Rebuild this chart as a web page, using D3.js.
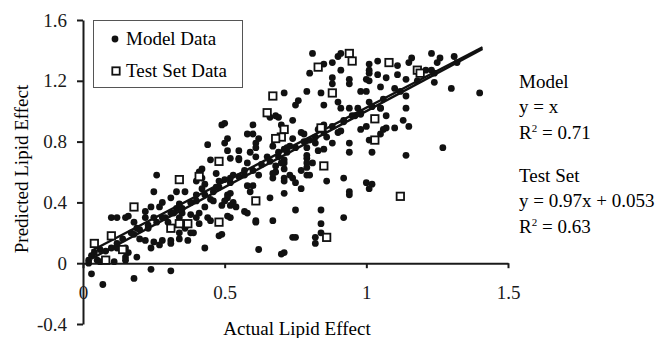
<!DOCTYPE html>
<html>
<head>
<meta charset="utf-8">
<script src="https://cdn.jsdelivr.net/npm/d3@7"></script>
<style>
  body { margin: 0; background: #fff; }
  svg { display: block; font-family: "Liberation Serif", "Times New Roman", serif; }
  .axis path, .axis line { stroke: #1a1a1a; stroke-width: 2; }
  .axis text { font-size: 19px; fill: #1a1a1a; font-family: "Liberation Serif", serif; }
</style>
</head>
<body>
<div id="vis"></div>
<script>
// values: [actual, predicted]
var modelPoints = [
  [0.49,0.91],[0.50,0.92],[0.51,0.82],[0.50,0.79],[0.44,0.78],[0.51,0.74],[0.52,0.69],[0.45,0.68],
  [0.42,0.62],[0.41,0.60],[0.26,0.58],[0.40,0.54],[0.43,0.52],[0.48,0.54],[0.52,0.56],[0.47,0.50],
  [0.25,0.47],[0.28,0.40],[0.27,0.37],[0.24,0.37],[0.22,0.34],[0.16,0.31],[0.15,0.30],[0.10,0.30],
  [0.12,0.30],[0.18,0.27],[0.22,0.30],[0.25,0.30],[0.28,0.30],[0.19,0.23],[0.23,0.23],[0.17,0.20],
  [0.20,0.16],[0.22,0.15],[0.25,0.14],[0.28,0.15],[0.31,0.15],[0.34,0.16],[0.37,0.15],[0.31,0.13],
  [0.27,0.12],[0.24,0.10],[0.15,0.10],[0.16,0.07],[0.12,0.10],[0.10,0.10],[0.06,0.09],[0.04,0.07],
  [0.03,0.05],[0.02,0.02],[0.05,0.02],[0.15,0.04],[0.19,0.04],[0.15,0.02],[0.06,0.01],[0.11,0.01],
  [0.43,0.37],[0.44,0.30],[0.45,0.28],[0.48,0.18],[0.43,0.10],[0.41,0.26],[0.40,0.30],[0.38,0.32],
  [0.41,0.33],[0.35,0.33],[0.33,0.36],[0.31,0.33],[0.34,0.30],[0.36,0.23],[0.38,0.20],[0.39,0.20],
  [0.34,0.20],[0.51,0.45],[0.52,0.30],[0.49,0.38],[0.42,0.49],[0.33,0.47],[0.36,0.47],[0.40,0.45],
  [0.31,0.43],[0.03,-0.07],[0.07,-0.14],[0.18,-0.10],[0.24,-0.04],[0.31,-0.05],[0.02,0.00],
  [0.62,0.09],[0.71,0.07],[0.67,0.28],[0.61,0.28],[0.51,0.31],[0.49,0.19],[0.57,0.34],[0.58,0.51],
  [0.60,0.51],[0.71,0.46],[0.75,0.35],[0.82,0.17],[0.84,0.35],[0.84,0.26],[0.74,0.17],[0.79,0.58],
  [0.77,0.61],[0.74,0.56],[0.71,0.56],[0.68,0.60],[0.67,0.56],[0.57,0.61],[0.53,0.58],[0.52,0.46],
  [0.53,0.40],[0.46,0.41],[0.42,0.56],[0.47,0.59],[0.55,0.74],[0.58,0.85],[0.61,0.79],[0.62,0.82],
  [0.59,0.73],[0.55,0.69],[0.67,0.77],[0.71,0.75],[0.73,0.77],[0.77,0.86],[0.78,0.85],[0.80,0.81],
  [0.79,0.76],[0.82,0.79],[0.85,0.75],[0.86,0.83],[0.88,0.79],[0.91,0.87],[0.94,0.79],[0.94,0.73],
  [0.98,0.88],[1.01,0.81],[1.02,0.73],[0.68,0.64],[0.71,0.66],[0.71,0.62],[0.67,0.59],[0.73,0.58],
  [0.79,0.69],[0.79,0.63],[0.81,0.66],[0.80,0.58],[0.71,0.54],[0.75,0.53],[0.77,0.49],[0.86,0.54],
  [0.92,0.56],[0.94,0.47],[0.94,0.45],[1.00,0.53],[1.02,0.52],[1.01,0.49],[0.59,0.47],[0.66,0.43],
  [0.51,0.43],[0.52,0.38],[0.50,0.41],[0.54,0.37],[0.58,0.33],[0.61,0.27],[0.92,0.30],
  [0.81,1.38],[0.85,1.31],[0.80,1.25],[0.88,1.32],[0.90,1.36],[0.91,1.38],[0.91,1.27],[1.01,1.31],
  [1.01,1.25],[1.00,1.21],[1.01,1.20],[0.94,1.21],[0.94,1.18],[0.88,1.22],[0.88,1.18],[0.84,1.12],
  [0.90,1.06],[0.91,1.02],[0.85,1.04],[0.94,1.02],[0.98,1.13],[1.00,1.13],[0.71,1.12],[0.79,1.13],
  [0.76,1.07],[0.75,1.04],[0.74,0.94],[0.68,0.97],[0.66,0.96],[0.70,0.91],[0.60,0.91],[0.98,0.98],
  [0.96,0.97],[1.01,1.06],[0.92,0.94],[0.85,0.91],[1.00,0.90],
  [1.23,1.38],[1.26,1.35],[1.25,1.32],[1.16,1.35],[1.15,1.32],[1.31,1.36],[1.32,1.32],[1.04,1.33],
  [1.11,1.30],[1.01,1.27],[1.04,1.24],[1.07,1.22],[1.11,1.24],[1.14,1.21],[1.21,1.27],[1.24,1.19],
  [1.23,1.27],[1.30,1.15],[1.40,1.12],[1.05,1.16],[1.10,1.15],[1.14,1.10],[1.14,1.02],[1.05,1.02],
  [1.07,0.97],[1.13,0.94],[1.15,0.90],[1.07,0.89],[1.10,0.89],[1.27,0.76],[1.14,0.71],[1.06,0.88],
  [1.05,0.85],[0.79,0.66],[0.84,0.20],[0.82,0.13],[0.75,0.17],[0.70,0.06],
  [0.60,0.85],[0.61,0.76],[0.69,0.73],[0.72,0.76],[0.74,0.82],[0.71,0.68],[0.79,0.71],[0.83,0.74],
  [0.55,0.68],[0.58,0.66],[0.61,0.70],[0.69,0.96],
  [0.08,0.08],[0.12,0.13],[0.14,0.16],[0.18,0.19],[0.20,0.22],[0.23,0.25],[0.26,0.27],[0.29,0.30],
  [0.32,0.33],[0.35,0.36],[0.38,0.40],[0.40,0.41],[0.43,0.45],[0.46,0.47],[0.48,0.50],[0.52,0.53],
  [0.55,0.57],[0.57,0.58],[0.60,0.61],[0.63,0.65],[0.66,0.67],[0.69,0.70],[0.72,0.73],[0.75,0.76],
  [0.78,0.80],[0.82,0.83],[0.85,0.86],[0.88,0.90],[0.92,0.93],[0.95,0.97],[0.98,0.99],[1.02,1.03],
  [1.06,1.08],[1.12,1.13],[1.18,1.20],[1.24,1.25],[0.30,0.27],[0.45,0.42],[0.62,0.58],[0.70,0.66],
  [0.90,0.86],[1.05,1.02],[0.34,0.39],[0.50,0.55],[0.65,0.70],[0.83,0.88],[0.97,1.02]
];

var testPoints = [
  [0.83,1.29],[0.94,1.38],[0.95,1.33],[1.08,1.32],[1.18,1.27],[1.19,1.25],[0.67,1.10],[0.65,0.99],
  [0.88,1.12],[0.71,0.88],[0.70,0.83],[0.68,0.82],[0.84,0.89],[0.48,0.67],[0.41,0.57],[0.34,0.55],
  [0.85,0.64],[1.03,0.95],[1.03,0.81],[0.61,0.41],[0.18,0.37],[0.31,0.23],[0.34,0.26],[0.37,0.26],
  [0.48,0.27],[0.10,0.18],[0.04,0.13],[0.14,0.09],[0.08,0.02],[0.86,0.17],[1.12,0.44]
];

// fitted lines: [slope, intercept], drawn over this x span
var modelFit = [1, 0];
var testFit = [0.97, 0.053];
var fitSpan = [0.03, 1.41];

var xTicks = [0, 0.5, 1, 1.5];
var yTicks = [-0.4, 0, 0.4, 0.8, 1.2, 1.6];

var width = 658, height = 338;

var svg = d3.select("#vis").append("svg")
  .attr("width", width)
  .attr("height", height);

var x = d3.scaleLinear().domain([0, 1.5]).range([83, 508]);
var y = d3.scaleLinear().domain([-0.4, 1.6]).range([324, 20]);

// axes
svg.append("g")
  .attr("class", "axis")
  .attr("transform", "translate(" + x(0) + ",0)")
  .call(d3.axisLeft(y).tickValues(yTicks).tickSize(6).tickSizeOuter(0).tickPadding(10)
    .tickFormat(function(d) { return String(d); }));

svg.append("g")
  .attr("class", "axis")
  .attr("transform", "translate(0," + y(0) + ")")
  .call(d3.axisBottom(x).tickValues(xTicks).tickSize(5).tickSizeOuter(0).tickPadding(17)
    .tickFormat(function(d) { return String(d); }));

// model data
svg.append("g").selectAll("circle")
  .data(modelPoints)
  .enter().append("circle")
  .attr("cx", function(d) { return x(d[0]); })
  .attr("cy", function(d) { return y(d[1]); })
  .attr("r", 3.4)
  .attr("fill", "#111");

// regression lines
[testFit, modelFit].forEach(function(f) {
  svg.append("line")
    .attr("x1", x(fitSpan[0]))
    .attr("y1", y(f[0] * fitSpan[0] + f[1]))
    .attr("x2", x(fitSpan[1]))
    .attr("y2", y(f[0] * fitSpan[1] + f[1]))
    .attr("stroke", "#111")
    .attr("stroke-width", 2.4);
});

// test set data
svg.append("g").selectAll("rect")
  .data(testPoints)
  .enter().append("rect")
  .attr("x", function(d) { return x(d[0]) - 3.7; })
  .attr("y", function(d) { return y(d[1]) - 3.7; })
  .attr("width", 7.4)
  .attr("height", 7.4)
  .attr("fill", "#fff")
  .attr("stroke", "#111")
  .attr("stroke-width", 1.8);

// legend
var legend = svg.append("g");
legend.append("rect")
  .attr("x", 93.5).attr("y", 20.5)
  .attr("width", 149).attr("height", 67)
  .attr("fill", "#fff")
  .attr("stroke", "#555")
  .attr("stroke-width", 1);
legend.append("circle")
  .attr("cx", 115).attr("cy", 39).attr("r", 3.4).attr("fill", "#111");
legend.append("rect")
  .attr("x", 112.3).attr("y", 67.3).attr("width", 7.4).attr("height", 7.4)
  .attr("fill", "#fff").attr("stroke", "#111").attr("stroke-width", 1.8);
legend.append("text").attr("x", 126).attr("y", 45).attr("font-size", "19px").text("Model Data");
legend.append("text").attr("x", 126).attr("y", 77).attr("font-size", "19px").text("Test Set Data");

// axis titles
svg.append("text")
  .attr("x", 297).attr("y", 335)
  .attr("text-anchor", "middle")
  .attr("font-size", "19px")
  .text("Actual Lipid Effect");

svg.append("text")
  .attr("transform", "translate(28,169) rotate(-90)")
  .attr("text-anchor", "middle")
  .attr("font-size", "19px")
  .text("Predicted Lipid Effect");

// equations
var notes = [
  ["Model", 88, null],
  ["y = x", 113, null],
  ["R", 139, " = 0.71"],
  ["Test Set", 182, null],
  ["y = 0.97x + 0.053", 207, null],
  ["R", 233, " = 0.63"]
];
notes.forEach(function(n) {
  var t = svg.append("text")
    .attr("x", 519).attr("y", n[1])
    .attr("font-size", "19px")
    .text(n[0]);
  if (n[2]) {
    t.append("tspan").attr("font-size", "11px").attr("dy", -7).text("2");
    t.append("tspan").attr("dy", 7).text(n[2]);
  }
});
</script>
</body>
</html>
